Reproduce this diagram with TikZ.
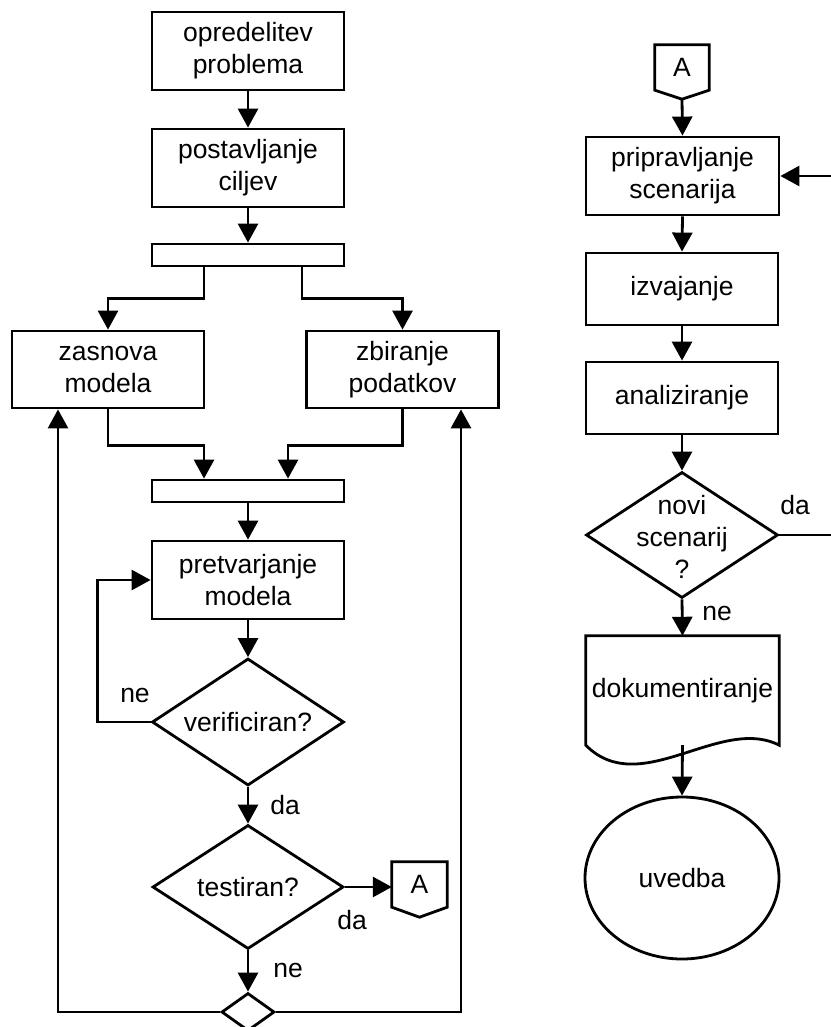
\documentclass[tikz,border=0pt]{standalone}
\usepackage{fontspec}
\setmainfont{Liberation Sans}
\usetikzlibrary{arrows.meta,shapes.geometric,calc}
\begin{document}
\begin{tikzpicture}[x=1pt,y=-1pt,
  every node/.style={font=\fontsize{26.5pt}{32pt}\selectfont},
  line/.style={line width=2.8pt, line join=miter},
  arr/.style={line, -{Triangle[length=19pt,width=20pt]}},
  box/.style={draw, line width=2.8pt, rectangle, inner sep=0pt, minimum width=192pt, minimum height=78pt, align=center},
  barbox/.style={draw, line width=2.8pt, rectangle, inner sep=0pt, minimum width=192pt, minimum height=22pt},
  dec/.style={draw, line width=2.8pt, diamond, aspect=1.5, inner sep=0pt, minimum width=192pt, minimum height=126pt},
  conn/.style={inner sep=0pt, minimum width=54pt, minimum height=45pt},
  lbl/.style={inner sep=0pt}
]
\useasboundingbox (0,0) rectangle (830,1027);

% left column
\node[box] (p1) at (248,51) {opredelitev\\problema};
\node[box] (p2) at (248,168) {postavljanje\\ciljev};
\node[barbox] (bar1) at (248,255) {};
\node[box, minimum height=77pt] (zas) at (108,369.5) {zasnova\\modela};
\node[box, minimum height=77pt] (zbi) at (402.5,369.5) {zbiranje\\podatkov};
\node[barbox] (bar2) at (248,491) {};
\node[box] (pre) at (248,580) {pretvarjanje\\modela};
\node[dec, minimum height=127pt] (ver) at (248,722) {verificiran?};
\node[dec, minimum width=191pt, minimum height=124pt] (tes) at (248,887) {testiran?};
\node[conn, minimum width=55pt] (A1) at (419.5,884.5) {\raisebox{-6pt}{A}};
\draw[line] (A1.north west) -- (A1.north east) -- (A1.south east) -- ($(A1.south)+(0,10)$) -- (A1.south west) -- cycle;
\node[draw, line width=2.8pt, diamond, aspect=1.4, inner sep=0pt, minimum width=53pt, minimum height=38pt] (sd) at (248,1012) {};

\draw[arr] (p1.south) -- (p2.north);
\draw[arr] (p2.south) -- (bar1.north);
\draw[arr] ($(bar1.south)+(-44,0)$) -- ++(0,31) -| (zas.north);
\draw[arr] ($(bar1.south)+(54,0)$) -- ++(0,31) -| (zbi.north);
\draw[arr] (zas.south) -- ++(0,36) -| ($(bar2.north)+(-44,0)$);
\draw[arr] (zbi.south) -- ++(0,36) -| ($(bar2.north)+(40,0)$);
\draw[arr] (bar2.south) -- (pre.north);
\draw[arr] (pre.south) -- (ver.north);
\draw[arr] (ver.west) -- ++(-53,0) |- (pre.west);
\draw[arr] (ver.south) -- (tes.north);
\draw[arr] (tes.east) -- (tes.east -| A1.west);
\draw[arr] (tes.south) -- (sd.north);
\draw[arr] (sd.west) -| ($(zas.south)+(-50,0)$);
\draw[arr] (sd.east) -| ($(zbi.south)+(58.5,0)$);

\node[lbl] (l1) at (135,695) {ne};
\node[lbl] (l2) at (285,805) {da};
\node[lbl] (l3) at (352,920) {da};
\node[lbl] (l4) at (288,970) {ne};

% right column
\node[conn] (A2) at (682,67.5) {\raisebox{-6pt}{A}};
\draw[line] (A2.north west) -- (A2.north east) -- (A2.south east) -- ($(A2.south)+(0,9)$) -- (A2.south west) -- cycle;
\node[box, minimum width=193pt] (pri) at (682.5,176) {pripravljanje\\scenarija};
\node[box, minimum height=72pt] (izv) at (682,289) {izvajanje};
\node[box, minimum height=72pt] (ana) at (682,398) {analiziranje};
\node[dec] (nov) at (682,535) {};
\node[align=center, inner sep=0pt] (novt) at (682,537) {novi\\scenarij\\?};
\node[inner sep=0pt, minimum width=193pt, minimum height=109pt] (dok) at (682.5,690.5) {dokumentiranje};
\draw[line] (dok.south west) -- (dok.north west) -- (dok.north east) -- (dok.south east)
  .. controls (720,715) and (640,800) .. (dok.south west) -- cycle;
\node[draw, line width=2.8pt, ellipse, inner sep=0pt, minimum width=194pt, minimum height=162pt] (uv) at (682,878) {uvedba};
\coordinate (rin) at (831,176);
\coordinate (rout) at (831,535);

\draw[arr] ($(A2.south)+(0,9)$) -- (pri.north);
\draw[arr] (rin) -- (pri.east);
\draw[arr] (pri.south) -- (izv.north);
\draw[arr] (izv.south) -- (ana.north);
\draw[arr] (ana.south) -- (nov.north);
\draw[line] (nov.east) -- (rout);
\draw[arr] (nov.south) -- (dok.north);
\draw[arr] (dok.south) -- (uv.north);

\node[lbl] (l5) at (795,505) {da};
\node[lbl] (l6) at (717,613) {ne};
\end{tikzpicture}
\end{document}
